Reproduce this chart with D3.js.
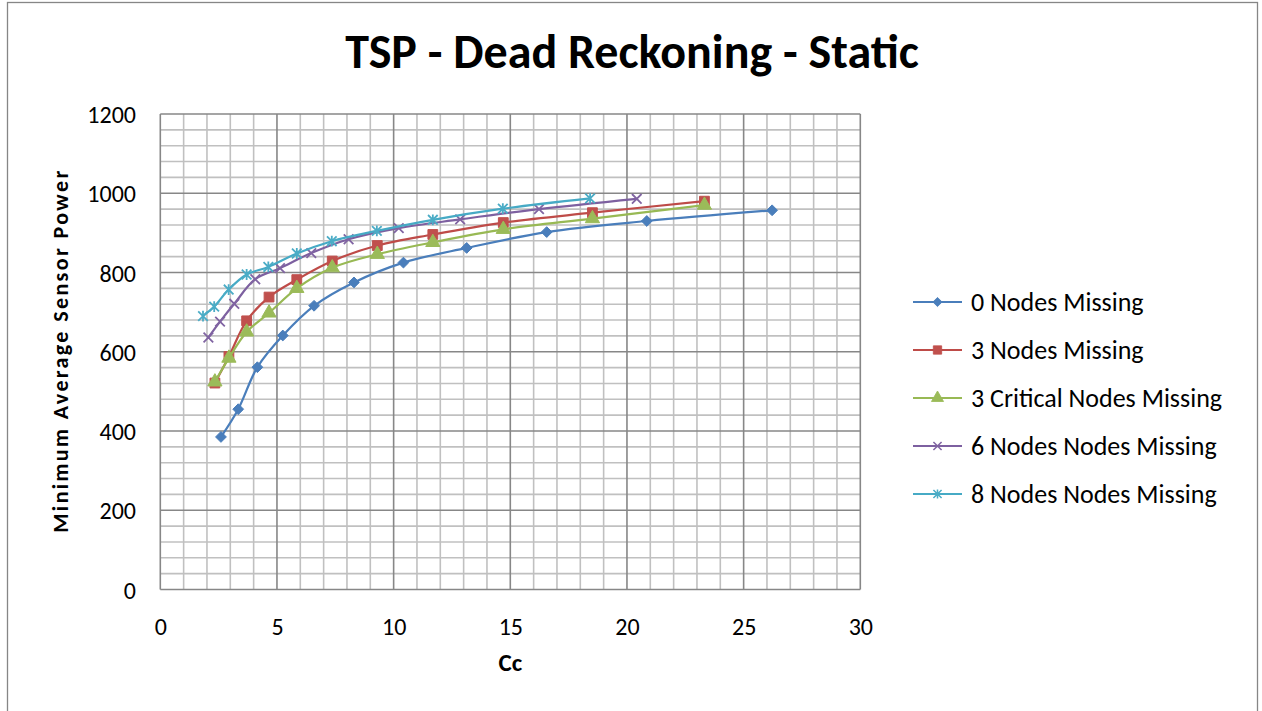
<!DOCTYPE html>
<html>
<head>
<meta charset="utf-8">
<script src="https://cdn.jsdelivr.net/npm/d3@7"></script>
<style>
  html, body { margin: 0; padding: 0; background: #fff; }
  svg { display: block; }
  text { font-family: Carlito, Calibri, Lato, "Open Sans", sans-serif; fill: #000; }
</style>
</head>
<body>
<svg id="chart" width="1262" height="711"></svg>
<script>
// Cc values and minimum average sensor power, one pair of arrays per scenario
const ccNodes0 = [2.60, 3.34, 4.16, 5.25, 6.59, 8.30, 10.42, 13.13, 16.56, 20.85, 26.22];
const powerNodes0 = [385, 455, 561, 641, 716, 775, 825, 862, 902, 930, 957];

const ccNodes3 = [2.34, 2.94, 3.70, 4.66, 5.85, 7.37, 9.30, 11.68, 14.70, 18.52, 23.32];
const powerNodes3 = [521, 588, 678, 738, 782, 829, 868, 896, 926, 951, 980];

const ccCritical3 = [2.34, 2.94, 3.70, 4.66, 5.85, 7.37, 9.30, 11.68, 14.70, 18.52, 23.32];
const powerCritical3 = [524, 584, 650, 698, 760, 812, 846, 876, 909, 936, 970];

const ccNodes6 = [2.06, 2.56, 3.17, 4.07, 5.13, 6.47, 8.07, 10.22, 12.85, 16.23, 20.42];
const powerNodes6 = [636, 676, 721, 783, 811, 849, 884, 912, 934, 960, 986];

const ccNodes8 = [1.83, 2.31, 2.93, 3.70, 4.63, 5.85, 7.35, 9.28, 11.68, 14.68, 18.42];
const powerNodes8 = [690, 714, 757, 795, 814, 848, 879, 905, 933, 961, 987];

const seriesNames = ["0 Nodes Missing", "3 Nodes Missing", "3 Critical Nodes Missing",
                     "6 Nodes Nodes Missing", "8 Nodes Nodes Missing"];
const xTicks = [0, 5, 10, 15, 20, 25, 30];
const yTicks = [0, 200, 400, 600, 800, 1000, 1200];

const chartTitle = "TSP - Dead Reckoning - Static";
const xTitle = "Cc";
const yTitle = "Minimum Average Sensor Power";

// Visual styling per series
const styles = [
  { line: "#4A7EBB", fill: "#4A7EBB", shape: "diamond" },
  { line: "#BE4B48", fill: "#C0504D", shape: "square" },
  { line: "#98B954", fill: "#9BBB59", shape: "triangle" },
  { line: "#7D60A0", fill: "#8064A2", shape: "cross" },
  { line: "#46AAC5", fill: "#4BACC6", shape: "star" }
];

const seriesData = [
  [ccNodes0, powerNodes0],
  [ccNodes3, powerNodes3],
  [ccCritical3, powerCritical3],
  [ccNodes6, powerNodes6],
  [ccNodes8, powerNodes8]
].map(([xs, ys], i) => ({
  name: seriesNames[i],
  style: styles[i],
  points: xs.map((x, j) => ({ x, y: ys[j] }))
}));

const svg = d3.select("#chart");

// Outer chart frame
svg.append("rect")
  .attr("x", 7.5).attr("y", 2.5)
  .attr("width", 1250).attr("height", 730)
  .attr("fill", "#fff").attr("stroke", "#868686").attr("stroke-width", 1.3);

const plot = { left: 160.3, right: 860.3, top: 114, bottom: 589.5 };

const x = d3.scaleLinear().domain([0, 30]).range([plot.left, plot.right]);
const y = d3.scaleLinear().domain([0, 1200]).range([plot.bottom, plot.top]);

const g = svg.append("g");

// Minor gridlines: every 1 on x, every 40 on y
const xMinor = d3.range(0, 31, 1).filter(v => v % 5 !== 0);
const yMinor = d3.range(0, 1201, 40).filter(v => v % 200 !== 0);

g.selectAll(".vminor").data(xMinor).join("line")
  .attr("x1", d => x(d)).attr("x2", d => x(d))
  .attr("y1", plot.top).attr("y2", plot.bottom)
  .attr("stroke", "#c0c0c0").attr("stroke-width", 1.6);
g.selectAll(".hminor").data(yMinor).join("line")
  .attr("y1", d => y(d)).attr("y2", d => y(d))
  .attr("x1", plot.left).attr("x2", plot.right)
  .attr("stroke", "#c0c0c0").attr("stroke-width", 1.6);

// Major gridlines at the tick values
g.selectAll(".vmajor").data(xTicks).join("line")
  .attr("x1", d => x(d)).attr("x2", d => x(d))
  .attr("y1", plot.top).attr("y2", plot.bottom)
  .attr("stroke", "#878787").attr("stroke-width", 1.6);
g.selectAll(".hmajor").data(yTicks).join("line")
  .attr("y1", d => y(d)).attr("y2", d => y(d))
  .attr("x1", plot.left).attr("x2", plot.right)
  .attr("stroke", "#878787").attr("stroke-width", 1.6);

// Axes (labels only; the gridlines carry the frame)
const xAxis = d3.axisBottom(x).tickValues(xTicks).tickFormat(d3.format("d")).tickSize(0).tickPadding(0);
const yAxis = d3.axisLeft(y).tickValues(yTicks).tickFormat(d3.format("d")).tickSize(0).tickPadding(0);

const gx = svg.append("g").attr("transform", `translate(0,${plot.bottom})`).call(xAxis);
gx.select(".domain").remove();
gx.selectAll("text")
  .attr("y", 45).attr("dy", null)
  .style("font-size", "24px")
  .style("font-family", "Carlito, Calibri, Lato, sans-serif")
  .attr("fill", "#000");

const gy = svg.append("g").attr("transform", `translate(136,0)`).call(yAxis);
gy.select(".domain").remove();
gy.selectAll("text")
  .attr("x", 0).attr("dy", "0.36em")
  .style("font-size", "24px")
  .style("font-family", "Carlito, Calibri, Lato, sans-serif")
  .attr("fill", "#000");

// Series lines and markers
const line = d3.line()
  .x(d => x(d.x)).y(d => y(d.y))
  .curve(d3.curveCatmullRom.alpha(0.5));

function markerPath(shape) {
  switch (shape) {
    case "diamond": return "M0,-5.4L5.4,0L0,5.4L-5.4,0Z";
    case "square": return d3.symbol(d3.symbolSquare, 96)();
    case "triangle": return d3.symbol(d3.symbolTriangle, 88)();
    case "cross": return "M-4.8,-4.8L4.8,4.8M-4.8,4.8L4.8,-4.8";
    case "star": return "M-4.8,-4.8L4.8,4.8M-4.8,4.8L4.8,-4.8M0,-5.4L0,5.4";
  }
}

function drawMarker(sel, style) {
  const open = style.shape === "cross" || style.shape === "star";
  sel.append("path")
    .attr("d", markerPath(style.shape))
    .attr("fill", open ? "none" : style.fill)
    .attr("stroke", style.fill)
    .attr("stroke-width", open ? 1.8 : 1);
}

seriesData.forEach(s => {
  const sg = g.append("g");
  sg.append("path")
    .datum(s.points)
    .attr("d", line)
    .attr("fill", "none")
    .attr("stroke", s.style.line)
    .attr("stroke-width", 2.2);
  sg.selectAll("g.m").data(s.points).join("g")
    .attr("class", "m")
    .attr("transform", d => `translate(${x(d.x)},${y(d.y)})`)
    .each(function () { drawMarker(d3.select(this), s.style); });
});

// Titles
svg.append("text")
  .attr("x", 632).attr("y", 68)
  .attr("text-anchor", "middle")
  .style("font-size", "48px").style("font-weight", "bold")
  .text(chartTitle);

svg.append("text")
  .attr("x", (plot.left + plot.right) / 2).attr("y", 671)
  .attr("text-anchor", "middle")
  .style("font-size", "25px").style("font-weight", "bold")
  .text(xTitle);

svg.append("text")
  .attr("transform", `translate(68,${(plot.top + plot.bottom) / 2}) rotate(-90)`)
  .attr("text-anchor", "middle")
  .attr("textLength", 362).attr("lengthAdjust", "spacing")
  .style("font-size", "22px").style("font-weight", "bold")
  .text(yTitle);

// Legend
const legend = svg.append("g").attr("transform", "translate(913,302)");
const rows = legend.selectAll("g.row").data(seriesData).join("g")
  .attr("class", "row")
  .attr("transform", (d, i) => `translate(0,${i * 48})`);
rows.append("line")
  .attr("x1", 0).attr("x2", 49).attr("y1", 0).attr("y2", 0)
  .attr("stroke", d => d.style.line).attr("stroke-width", 2.2);
rows.each(function (d) {
  const mg = d3.select(this).append("g").attr("transform", "translate(24.5,0) scale(0.85)");
  drawMarker(mg, d.style);
});
rows.append("text")
  .attr("x", 58).attr("dy", "0.35em")
  .style("font-size", "26px")
  .text(d => d.name);
</script>
</body>
</html>
